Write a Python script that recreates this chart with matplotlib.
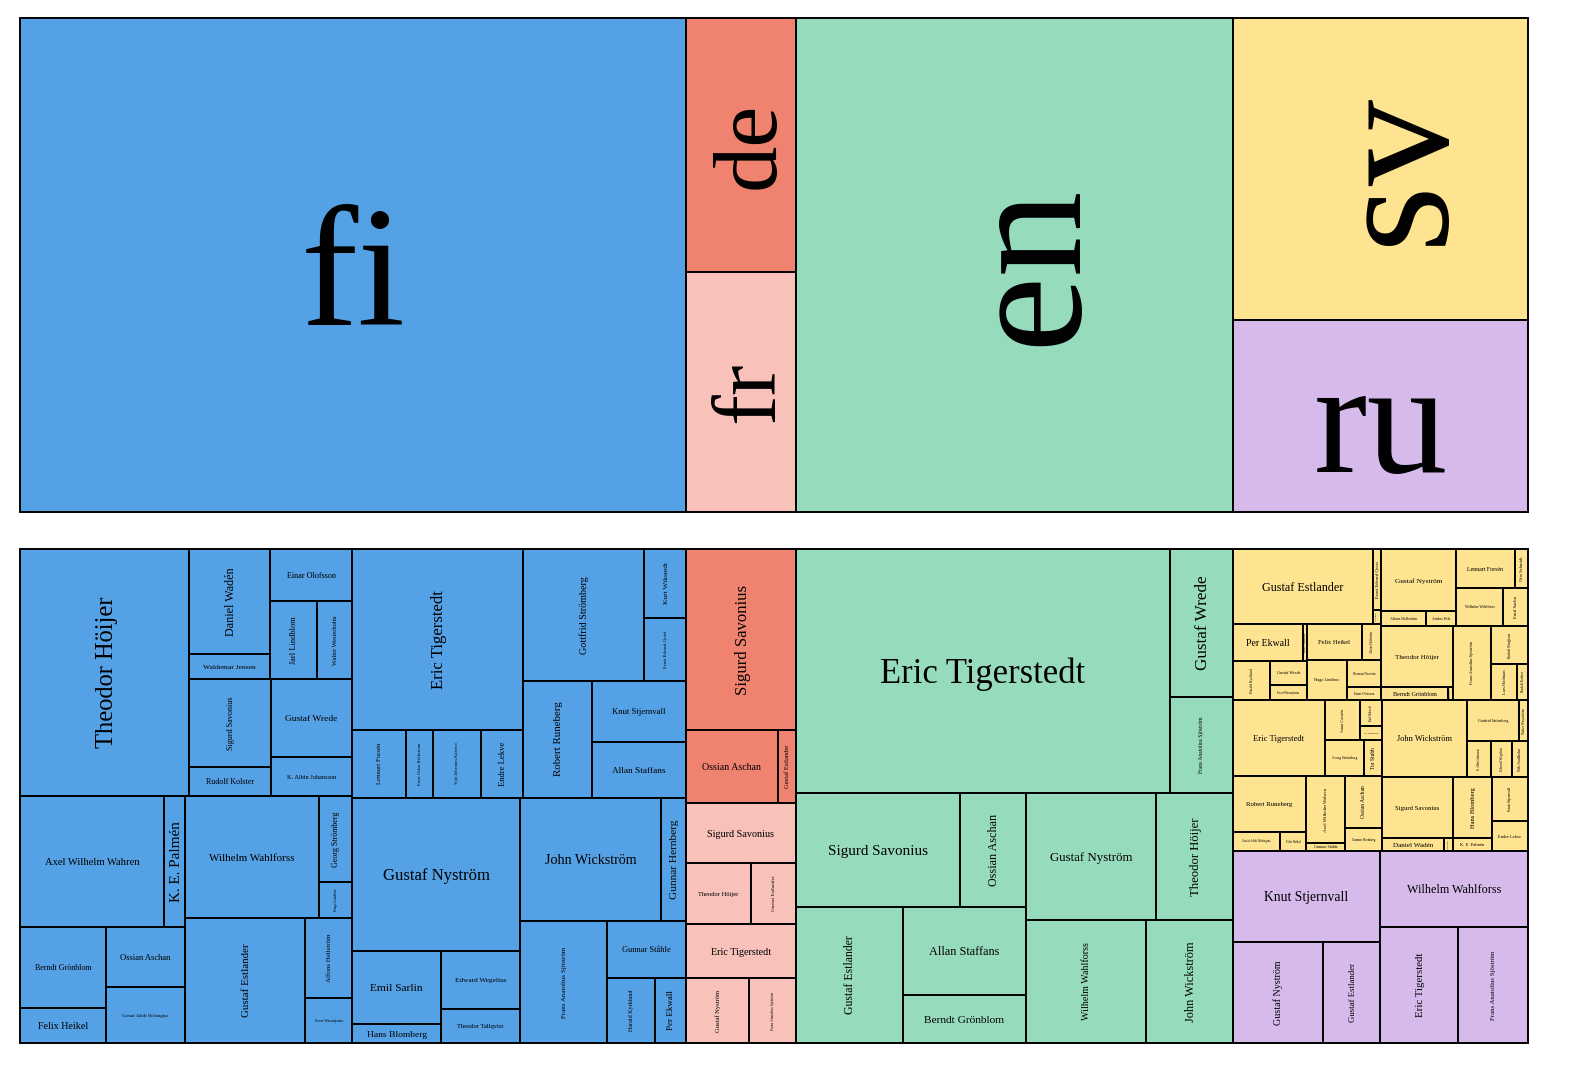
import matplotlib
matplotlib.use("Agg")
import matplotlib.pyplot as plt
from matplotlib.patches import Rectangle

plt.rcParams['font.family'] = ['Liberation Serif', 'DejaVu Serif']

DPI = 100
PANEL_W, PANEL_H = 1508, 494

languages = ["fi", "de", "fr", "en", "sv", "ru"]
colors = {"fi": "#55a1e5", "de": "#f08270", "fr": "#f8c1ba",
          "en": "#97dbbd", "sv": "#fee391", "ru": "#d5baeb"}

# authors per language, in layout order, with their weights
fi_names = ["Theodor Höijer", "Daniel Wadén", "Waldemar Jensen", "Einar Olofsson",
            "Jarl Lindblom", "Walter Westerholm", "Sigurd Savonius", "Rudolf Kolster",
            "Gustaf Wrede", "K. Albin Johansson",
            "Axel Wilhelm Wahren", "K. E. Palmén", "Berndt Grönblom", "Felix Heikel",
            "Ossian Aschan", "Gustaf Adolf Helsingius", "Wilhelm Wahlforss",
            "Georg Strömberg", "Hugo Lindfors", "Gustaf Estlander", "Alfons Hellström",
            "Evert Wasastjerna",
            "Eric Tigerstedt", "Lennart Forsén", "Ernst Oskar Bäckström",
            "Yrjö Johannes Kalervo", "Endre Lekve", "Gottfrid Strömberg", "Kurt Wikstedt",
            "Ernst Edvard Qvist", "Robert Runeberg", "Knut Stjernvall", "Allan Staffans",
            "Gustaf Nyström", "Emil Sarlin", "Hans Blomberg", "Edward Wegelius",
            "Theodor Tallqvist", "John Wickström", "Gunnar Hernberg",
            "Frans Anatolius Sjöström", "Gunnar Ståhle", "Harald Kyrklund", "Per Ekwall"]
fi_values = [41743, 8505, 2025, 4264, 3666, 2730, 7216, 2378, 6318, 3159,
             18864, 2751, 6966, 3010, 4740, 4424, 16348, 2838, 1188, 15000, 3760, 2115,
             30780, 3672, 1836, 3264, 2856, 16000, 2850, 2600, 8100, 5800, 5200,
             25704, 6497, 1691, 4582, 2686, 17343, 3075, 10614, 4503, 3120, 2015]

de_names = ["Sigurd Savonius", "Ossian Aschan", "Gustaf Estlander"]
de_values = [19910, 6716, 1314]

fr_names = ["Sigurd Savonius", "Theodor Höijer", "Gustaf Estlander",
            "Eric Tigerstedt", "Gustaf Nyström", "Frans Anatolius Sjöström"]
fr_values = [6600, 3965, 2745, 5940, 4095, 3055]

en_names = ["Eric Tigerstedt", "Gustaf Wrede", "Frans Anatolius Sjöström",
            "Sigurd Savonius", "Ossian Aschan", "Gustaf Estlander", "Allan Staffans",
            "Berndt Grönblom", "Gustaf Nyström", "Theodor Höijer", "Wilhelm Wahlforss",
            "John Wickström"]
en_values = [91256, 9324, 6048, 18696, 7524, 14552, 10824, 5904, 16510, 9779, 14760, 10701]

sv_names = ["Gustaf Estlander", "Ernst Edvard Qvist", "Jarl Lindblom",
            "Per Ekwall", "Kurt Wikstedt", "Harald Kyrklund", "Gustaf Wrede",
            "Evert Wasastjerna", "Felix Heikel", "Alfons Hellström", "Hugo Lindfors",
            "Herman Neovius", "Einar Olofsson",
            "Gustaf Nyström", "Alfons Hellström", "Anders Hils", "Lennart Forsén",
            "Otto Schmidt", "Wilhelm Wahlforss", "Emil Sarlin",
            "Theodor Höijer", "Berndt Grönblom", "Rudolf Kolster",
            "Frans Anatolius Sjöström", "Rudolf Ringbom", "Lars Hedman", "Rudolf Kolster",
            "Eric Tigerstedt", "Jonas Castrén", "Karl Wikstedt", "Tor Nordström",
            "Georg Strömberg", "Tor Stubb",
            "Robert Runeberg", "Gustaf Adolf Helsingius", "Felix Heikel",
            "Axel Wilhelm Wahren", "Gunnar Ståhle", "Ossian Aschan", "Gunnar Hernberg",
            "John Wickström", "Gottfrid Strömberg", "Walter Westerholm",
            "K. Albin Johansson", "Edward Wegelius", "Nils Sundholm",
            "Sigurd Savonius", "Daniel Wadén", "Hans Blomberg", "Hans Blomberg",
            "K. E. Palmén", "Knut Stjernvall", "Endre Lekve"]
sv_values = [10500, 488, 112, 2590, 148, 1443, 888, 555, 1980, 684, 1600, 918, 442,
             4650, 675, 450, 2301, 507, 1786, 950,
             4392, 871, 65, 2812, 1406, 936, 396,
             6992, 1400, 572, 308, 1404, 648,
             4088, 893, 494, 2613, 312, 1924, 851,
             6545, 2132, 369, 864, 756, 576,
             4331, 806, 117, 2379, 507, 1584, 1080]

ru_names = ["Knut Stjernvall", "Gustaf Nyström", "Gustaf Estlander",
            "Wilhelm Wahlforss", "Eric Tigerstedt", "Frans Anatolius Sjöström"]
ru_values = [13377, 9090, 5757, 11248, 9048, 8120]

authors = {"fi": (fi_names, fi_values), "de": (de_names, de_values),
           "fr": (fr_names, fr_values), "en": (en_names, en_values),
           "sv": (sv_names, sv_values), "ru": (ru_names, ru_values)}


def binary_treemap(values, x0, y0, x1, y1):
    # same splitting rule as d3.treemapBinary
    n = len(values)
    sums = [0]
    for v in values:
        sums.append(sums[-1] + v)
    rects = [None] * n

    def part(i, j, value, x0, y0, x1, y1):
        if i >= j - 1:
            rects[i] = (x0, y0, x1, y1)
            return
        offset = sums[i]
        target = value / 2 + offset
        k, hi = i + 1, j - 1
        while k < hi:
            mid = (k + hi) // 2
            if sums[mid] < target:
                k = mid + 1
            else:
                hi = mid
        if target - sums[k - 1] < sums[k] - target and i + 1 < k:
            k -= 1
        left = sums[k] - offset
        right = value - left
        if x1 - x0 > y1 - y0:
            xk = (x0 * right + x1 * left) / value
            part(i, k, left, x0, y0, xk, y1)
            part(k, j, right, xk, y0, x1, y1)
        else:
            yk = (y0 * right + y1 * left) / value
            part(i, k, left, x0, y0, x1, yk)
            part(k, j, right, x0, yk, x1, y1)

    part(0, n, sums[n], x0, y0, x1, y1)
    return rects


def draw_cell(ax, rect, label, color, max_px):
    x0, y0, x1, y1 = rect
    w, h = x1 - x0, y1 - y0
    ax.add_patch(Rectangle((x0, y0), w, h, facecolor=color, edgecolor="black",
                           linewidth=1.4, clip_on=False))
    long_side, short_side = max(w, h), min(w, h)
    fs_px = min(long_side / (0.72 * len(label)), 0.84 * short_side, max_px)
    # baseline sits 0.35em below the centre, like an svg text with dy=.35em
    shift = 0.35 * fs_px
    cx, cy = x0 + w / 2, y0 + h / 2
    if h > w:
        ax.text(cx + shift, cy, label, rotation=90, rotation_mode="anchor",
                ha="center", va="baseline", fontsize=fs_px * 72 / DPI, color="black")
    else:
        ax.text(cx, cy + shift, label, ha="center", va="baseline",
                fontsize=fs_px * 72 / DPI, color="black")


def new_panel(fig, top_px):
    ax = fig.add_axes([20 / 1572, (1092 - top_px - PANEL_H) / 1092,
                       PANEL_W / 1572, PANEL_H / 1092])
    ax.set_xlim(0, PANEL_W)
    ax.set_ylim(PANEL_H, 0)
    ax.axis("off")
    return ax


fig = plt.figure(figsize=(15.72, 10.92), dpi=DPI)

totals = [sum(authors[lang][1]) for lang in languages]
lang_rects = binary_treemap(totals, 0, 0, PANEL_W, PANEL_H)

ax_top = new_panel(fig, 18)
for lang, rect in zip(languages, lang_rects):
    draw_cell(ax_top, rect, lang, colors[lang], 172)

ax_bottom = new_panel(fig, 549)
for lang, rect in zip(languages, lang_rects):
    names, values = authors[lang]
    for name, r in zip(names, binary_treemap(values, *rect)):
        draw_cell(ax_bottom, r, name, colors[lang], 172)

fig.savefig("out.png", dpi=DPI)
